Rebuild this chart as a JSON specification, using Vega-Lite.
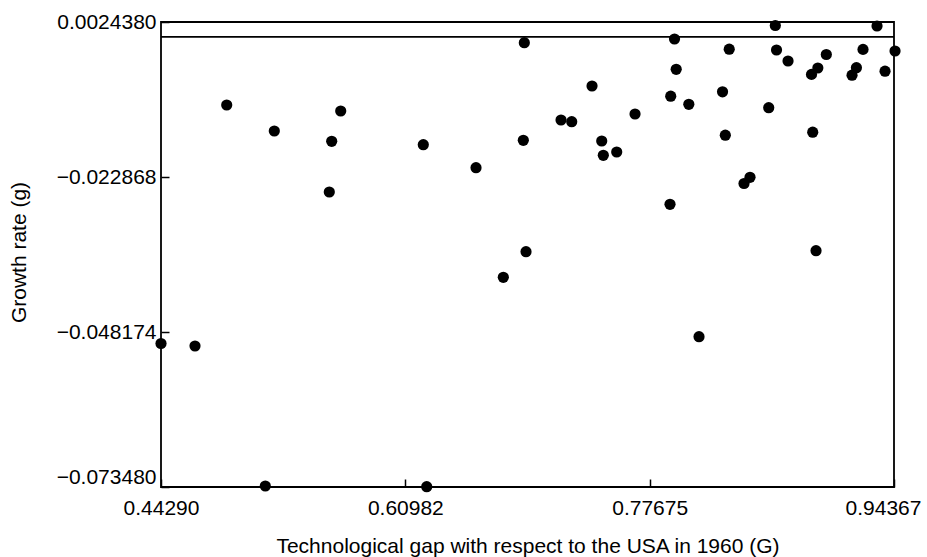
{
  "$schema": "https://vega.github.io/schema/vega-lite/v6.json",
  "width": 733,
  "height": 465,
  "autosize": {"type": "none"},
  "padding": {"left": 161, "top": 22, "right": 33, "bottom": 70},
  "background": "white",
  "config": {
    "view": {"stroke": "black", "strokeWidth": 1.8},
    "axis": {
      "grid": false,
      "domain": false,
      "offset": -8,
      "tickColor": "black",
      "tickWidth": 1.5,
      "tickSize": 8,
      "labelFlush": false,
      "labelColor": "black",
      "titleColor": "black",
      "labelFont": "Liberation Sans",
      "titleFont": "Liberation Sans",
      "labelFontSize": 21,
      "titleFontSize": 21,
      "titleFontWeight": "normal"
    }
  },
  "layer": [
    {
      "data": {"values": [{"zero": 0}]},
      "mark": {"type": "rule", "color": "black", "strokeWidth": 1.8},
      "encoding": {
        "y": {"field": "zero", "type": "quantitative", "scale": {"domain": [-0.07348, 0.002438], "nice": false, "zero": false}}
      }
    },
    {
      "data": {"values": [
        {"G": 0.48779, "g": -0.011113},
        {"G": 0.52031, "g": -0.015357},
        {"G": 0.69111, "g": -0.000941},
        {"G": 0.73736, "g": -0.008011},
        {"G": 0.56567, "g": -0.012092},
        {"G": 0.71618, "g": -0.013562},
        {"G": 0.72349, "g": -0.013839},
        {"G": 0.55952, "g": -0.017039},
        {"G": 0.6221, "g": -0.017594},
        {"G": 0.69043, "g": -0.016876},
        {"G": 0.74399, "g": -0.01699},
        {"G": 0.74508, "g": -0.019325},
        {"G": 0.75423, "g": -0.018786},
        {"G": 0.65811, "g": -0.021349},
        {"G": 0.55788, "g": -0.025316},
        {"G": 0.86259, "g": 0.001867},
        {"G": 0.93207, "g": 0.001785},
        {"G": 0.79372, "g": -0.000337},
        {"G": 0.8311, "g": -0.002003},
        {"G": 0.86341, "g": -0.002133},
        {"G": 0.87127, "g": -0.003929},
        {"G": 0.89743, "g": -0.002868},
        {"G": 0.92251, "g": -0.002035},
        {"G": 0.94437, "g": -0.002297},
        {"G": 0.79488, "g": -0.005284},
        {"G": 0.89163, "g": -0.005072},
        {"G": 0.88732, "g": -0.006117},
        {"G": 0.918, "g": -0.005023},
        {"G": 0.915, "g": -0.006247},
        {"G": 0.93754, "g": -0.005594},
        {"G": 0.79113, "g": -0.009676},
        {"G": 0.80349, "g": -0.011},
        {"G": 0.82652, "g": -0.008958},
        {"G": 0.85808, "g": -0.011553},
        {"G": 0.76674, "g": -0.01258},
        {"G": 0.82843, "g": -0.016043},
        {"G": 0.88814, "g": -0.015553},
        {"G": 0.84531, "g": -0.022916},
        {"G": 0.84121, "g": -0.023928},
        {"G": 0.79065, "g": -0.027324},
        {"G": 0.8904, "g": -0.0349},
        {"G": 0.81046, "g": -0.04894},
        {"G": 0.69227, "g": -0.035063},
        {"G": 0.67676, "g": -0.039242},
        {"G": 0.4429, "g": -0.05005},
        {"G": 0.46613, "g": -0.050458},
        {"G": 0.51416, "g": -0.073315},
        {"G": 0.62443, "g": -0.07343}
      ]},
      "mark": {"type": "point", "filled": true, "shape": "circle", "size": 125, "color": "black", "opacity": 1},
      "encoding": {
        "x": {
          "field": "G", "type": "quantitative",
          "scale": {"domain": [0.4429, 0.94367], "nice": false, "zero": false},
          "axis": {
            "values": [0.4429, 0.60982, 0.77675, 0.94367],
            "format": ".5f",
            "labelPadding": 10,
            "labelOffset": {"condition": {"test": "datum.value > 0.94", "value": -11}, "value": 0},
            "title": "Technological gap with respect to the USA in 1960 (G)",
            "titleY": 73,
            "titleBaseline": "alphabetic"
          }
        },
        "y": {
          "field": "g", "type": "quantitative",
          "scale": {"domain": [-0.07348, 0.002438], "nice": false, "zero": false},
          "axis": {
            "values": [0.002438, -0.022868, -0.048174, -0.07348],
            "format": ".5r",
            "labelPadding": 5,
            "labelBaseline": {"condition": {"test": "datum.value < -0.07", "value": "bottom"}, "value": "middle"},
            "title": "Growth rate (g)",
            "titleX": -144,
            "titleY": 230,
            "titleBaseline": "alphabetic"
          }
        }
      }
    }
  ]
}
